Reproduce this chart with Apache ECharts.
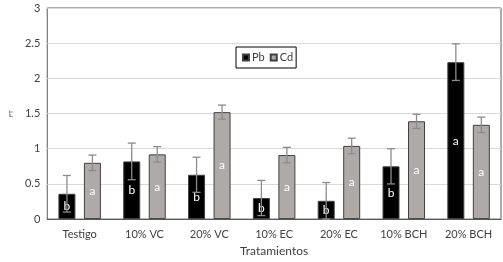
<!DOCTYPE html>
<html>
<head>
<meta charset="utf-8">
<script src="https://cdn.jsdelivr.net/npm/echarts@6/dist/echarts.min.js"></script>
<style>
  html, body { margin: 0; padding: 0; background: #fff; }
</style>
</head>
<body>
<div id="myEcharts" style="width: 503px; height: 262px;"></div>
<script>
var categories = ['Testigo', '10% VC', '20% VC', '10% EC', '20% EC', '10% BCH', '20% BCH'];
var pbValues = [0.36, 0.82, 0.63, 0.30, 0.26, 0.75, 2.23];
var cdValues = [0.80, 0.92, 1.52, 0.91, 1.04, 1.39, 1.34];
var pbErr = [0.26, 0.26, 0.25, 0.25, 0.26, 0.25, 0.26];
var cdErr = [0.11, 0.11, 0.10, 0.11, 0.11, 0.10, 0.11];
var pbLetters = ['b', 'b', 'b', 'b', 'b', 'b', 'a'];
var cdLetters = ['a', 'a', 'a', 'a', 'a', 'a', 'a'];
var yTicks = [0, 0.5, 1, 1.5, 2, 2.5, 3];

var barW = 17;
var gapW = 8.5;

function errorSeries(values, errs, side) {
  var data = values.map(function (v, i) { return [i, v - errs[i], v + errs[i]]; });
  return {
    type: 'custom',
    z: 5,
    silent: true,
    data: data,
    renderItem: function (params, api) {
      var offset = side * (barW / 2 + gapW / 2);
      var lo = api.coord([api.value(0), api.value(1)]);
      var hi = api.coord([api.value(0), api.value(2)]);
      var x = lo[0] + offset;
      var cap = 4;
      var style = { stroke: '#8c8c8c', lineWidth: 1.3 };
      return {
        type: 'group',
        children: [
          { type: 'line', shape: { x1: x, y1: lo[1], x2: x, y2: hi[1] }, style: style },
          { type: 'line', shape: { x1: x - cap, y1: hi[1], x2: x + cap, y2: hi[1] }, style: style },
          { type: 'line', shape: { x1: x - cap, y1: lo[1], x2: x + cap, y2: lo[1] }, style: style }
        ]
      };
    }
  };
}

var chart = echarts.init(document.getElementById('myEcharts'));
chart.setOption({
  animation: false,
  textStyle: { fontFamily: 'Lato' },
  grid: {
    left: 44, right: 2, top: 8, bottom: 41,
    show: true, borderColor: '#595959', borderWidth: 1
  },
  legend: {
    left: 236, top: 47,
    padding: [5, 3, 5, 6],
    itemGap: 5,
    itemWidth: 6, itemHeight: 6,
    icon: 'rect',
    borderColor: '#000', borderWidth: 1,
    textStyle: { fontSize: 11, color: '#404040', padding: [0, 0, 0, -2] },
    data: ['Pb', 'Cd']
  },
  xAxis: {
    type: 'category',
    data: categories,
    name: 'Tratamientos',
    nameLocation: 'middle',
    nameGap: 25,
    nameTextStyle: { fontSize: 12, color: '#404040' },
    axisLine: { lineStyle: { color: '#595959' } },
    axisTick: { show: false },
    axisLabel: { fontSize: 11, color: '#404040', margin: 10 }
  },
  yAxis: {
    type: 'value',
    min: yTicks[0], max: yTicks[yTicks.length - 1], interval: 0.5,
    name: 'FT',
    nameLocation: 'middle',
    nameRotate: 90,
    nameGap: 32,
    nameTextStyle: { fontSize: 6, color: '#404040' },
    axisLine: { show: false },
    axisTick: { show: false },
    axisLabel: { fontSize: 11, color: '#404040', margin: 7 },
    splitLine: { lineStyle: { color: '#d9d9d9' } }
  },
  series: [
    {
      name: 'Pb',
      type: 'bar',
      barWidth: barW,
      barGap: (gapW / barW * 100) + '%',
      data: pbValues,
      itemStyle: { color: '#000000', borderColor: '#404040', borderWidth: 1 },
      label: {
        show: true, position: 'inside', color: '#fff', fontSize: 12,
        formatter: function (p) { return pbLetters[p.dataIndex]; }
      }
    },
    {
      name: 'Cd',
      type: 'bar',
      barWidth: barW,
      data: cdValues,
      itemStyle: { color: '#aeaaaa', borderColor: '#404040', borderWidth: 1 },
      label: {
        show: true, position: 'inside', color: '#fff', fontSize: 12,
        formatter: function (p) { return cdLetters[p.dataIndex]; }
      }
    },
    errorSeries(pbValues, pbErr, -1),
    errorSeries(cdValues, cdErr, 1)
  ]
});
window.onresize = function () {
  chart.resize();
};
</script>
</body>
</html>
